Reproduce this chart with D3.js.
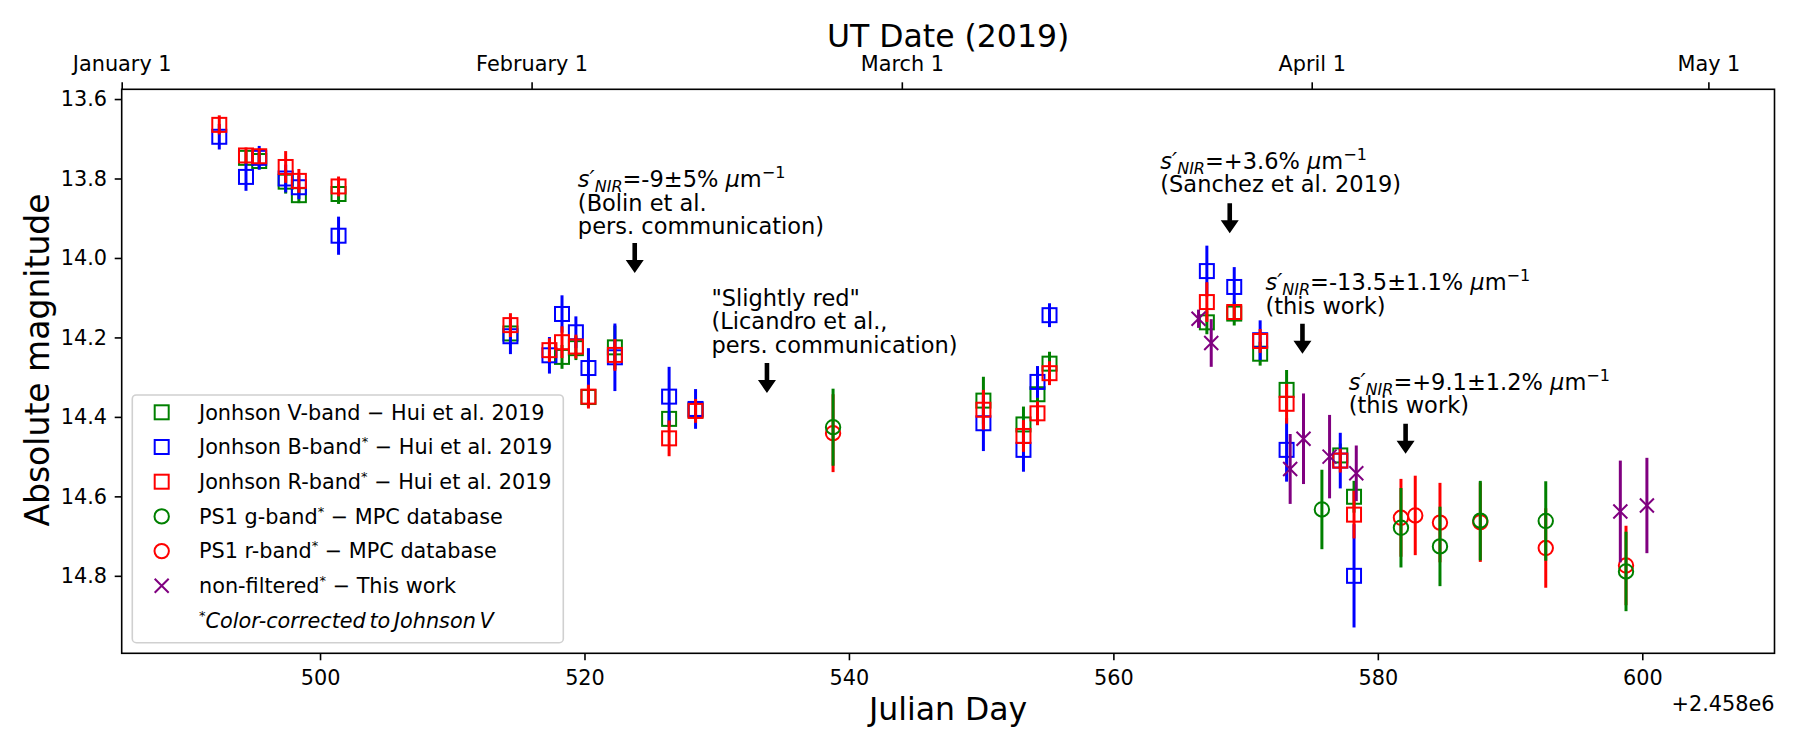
<!DOCTYPE html>
<html>
<head>
<meta charset="utf-8">
<script src="https://cdn.jsdelivr.net/npm/d3@7"></script>
<style>
  body { margin: 0; background: #fff; }
  svg { font-family: "DejaVu Sans", sans-serif; }
</style>
</head>
<body>
<div id="chart"></div>
<script>
// Hui et al. 2019 epochs (JD - 2458000) and the three Johnson bands
const huiJd = [492.38, 494.40, 495.40, 497.40, 498.40, 501.40, 514.40, 517.35, 518.30, 519.35, 520.30, 522.30,
               526.40, 528.40, 550.17, 553.20, 554.26, 555.17, 567.07, 569.14, 571.10, 573.10, 577.16, 578.20];
const vMag = [null, 13.748, 13.756, 13.808, 13.842, 13.839, 14.190, null, 14.249, 14.227, 14.350, 14.225,
              14.405, 14.383, 14.359, 14.419, 14.343, 14.266, 14.162, 14.140, 14.241, 14.332, 14.497, 14.601];
const vErr = [null, 0.015, 0.02, 0.03, 0.02, 0.025, 0.02, null, 0.03, 0.03, 0.025, 0.055,
              0.02, 0.02, 0.06, 0.045, 0.03, 0.03, 0.03, 0.03, 0.03, 0.05, 0.03, 0.04];
const bMag = [13.695, 13.796, 13.748, 13.800, 13.822, 13.944, 14.197, 14.245, 14.141, 14.187, 14.277, 14.250,
              14.349, 14.380, 14.416, 14.483, 14.312, 14.144, 14.033, 14.073, 14.207, 14.483, 14.510, 14.800];
const bErr = [0.032, 0.035, 0.03, 0.035, 0.03, 0.048, 0.045, 0.046, 0.047, 0.04, 0.05, 0.085,
              0.075, 0.05, 0.07, 0.055, 0.04, 0.03, 0.064, 0.05, 0.05, 0.08, 0.07, 0.13];
const rMag = [13.665, 13.742, 13.744, 13.771, 13.806, 13.820, 14.169, 14.232, 14.212, 14.223, 14.349, 14.244,
              14.454, 14.385, 14.382, 14.448, 14.391, 14.290, 14.111, 14.136, 14.209, 14.367, 14.510, 14.646];
const rErr = [0.024, 0.02, 0.02, 0.04, 0.03, 0.025, 0.03, 0.03, 0.04, 0.03, 0.03, 0.04,
              0.045, 0.03, 0.05, 0.04, 0.03, 0.03, 0.05, 0.02, 0.03, 0.05, 0.03, 0.06];

// PS1 from the MPC database
const ps1Jd  = [538.80, 575.77, 581.75, 582.83, 584.70, 587.75, 592.70, 598.77];
const ps1G   = [14.426, 14.633, 14.679, null, 14.726, 14.661, 14.662, 14.789];
const ps1GErr = [0.097, 0.10, 0.10, null, 0.10, 0.10, 0.10, 0.10];
const ps1R   = [14.441, null, 14.654, 14.648, 14.666, 14.665, 14.730, 14.774];
const ps1RErr = [0.098, null, 0.098, 0.10, 0.10, 0.10, 0.10, 0.10];

// non-filtered, this work
const nfJd  = [566.44, 567.40, 573.37, 574.38, 576.35, 578.37, 598.34, 600.35];
const nfMag = [14.153, 14.214, 14.531, 14.455, 14.500, 14.542, 14.638, 14.623];
const nfErr = [0.023, 0.06, 0.088, 0.114, 0.105, 0.07, 0.128, 0.12];

const xTicks = [500, 520, 540, 560, 580, 600];
const yTicks = [13.6, 13.8, 14.0, 14.2, 14.4, 14.6, 14.8];
const dateJd = [485, 516, 544, 575, 605];
const dateLabels = ["January 1", "February 1", "March 1", "April 1", "May 1"];

const legendLabels = [
  "Jonhson V-band − Hui et al. 2019",
  "Jonhson B-band* − Hui et al. 2019",
  "Jonhson R-band* − Hui et al. 2019",
  "PS1 g-band* − MPC database",
  "PS1 r-band* − MPC database",
  "non-filtered* − This work"
];
const legendNote = "Color-corrected to Johnson V";

// annotations: slope value (or null), other lines, text anchor and arrow tip in data coords
const annoSlope = ["-9±5%", null, "+3.6%", "-13.5±1.1%", "+9.1±1.2%"];
const annoLines = [
  ["(Bolin et al.", "pers. communication)"],
  ["\"Slightly red\"", "(Licandro et al.,", "pers. communication)"],
  ["(Sanchez et al. 2019)"],
  ["(this work)"],
  ["(this work)"]
];
const annoText = [[519.5, 13.822], [529.6, 14.121], [563.55, 13.776], [571.5, 14.081], [577.8, 14.332]];
const annoTip  = [[523.8, 14.038], [533.8, 14.340], [568.8, 13.938], [574.3, 14.241], [582.1, 14.493]];

const W = 1800, H = 750;
const plotL = 121.7, plotR = 1774.5, plotT = 89.3, plotB = 653.3;

const svg = d3.select("#chart").append("svg")
  .attr("width", W)
  .attr("height", H);

const x = d3.scaleLinear().domain([485, 610]).range([plotL, plotR]);
const y = d3.scaleLinear().domain([13.5755, 14.995]).range([plotT, plotB]);

function styleAxis(g) {
  g.attr("font-family", "DejaVu Sans").attr("font-size", 20.8);
  g.select(".domain").remove();
  g.selectAll(".tick line").attr("stroke", "#000").attr("stroke-width", 1.6);
  g.selectAll(".tick text").attr("fill", "#000");
}

svg.append("g")
  .attr("transform", `translate(0,${plotB})`)
  .call(d3.axisBottom(x).tickValues(xTicks).tickSize(7).tickPadding(10).tickFormat(d3.format("d")))
  .call(styleAxis);

svg.append("g")
  .attr("transform", `translate(${plotL},0)`)
  .call(d3.axisLeft(y).tickValues(yTicks).tickSize(7).tickPadding(7.7).tickFormat(d3.format(".1f")))
  .call(styleAxis);

svg.append("g")
  .attr("transform", `translate(0,${plotT})`)
  .call(d3.axisTop(x).tickValues(dateJd).tickSize(7).tickPadding(11.5).tickFormat((d, i) => dateLabels[i]))
  .call(styleAxis);

// axis titles
svg.append("text")
  .attr("x", (plotL + plotR) / 2).attr("y", 46.5)
  .attr("text-anchor", "middle").attr("font-size", 31.5)
  .text("UT Date (2019)");

svg.append("text")
  .attr("x", (plotL + plotR) / 2).attr("y", 720)
  .attr("text-anchor", "middle").attr("font-size", 31.5)
  .text("Julian Day");

svg.append("text")
  .attr("transform", "translate(49,360) rotate(-90)")
  .attr("text-anchor", "middle").attr("font-size", 33)
  .text("Absolute magnitude");

svg.append("text")
  .attr("x", plotR).attr("y", 710.7)
  .attr("text-anchor", "end").attr("font-size", 20.8)
  .text("+2.458e6");

// markers
function marker(g, shape, color) {
  if (shape === "square") {
    g.append("rect").attr("x", -7).attr("y", -7).attr("width", 14).attr("height", 14)
      .attr("fill", "none").attr("stroke", color).attr("stroke-width", 2);
  } else if (shape === "circle") {
    g.append("circle").attr("r", 7.2)
      .attr("fill", "none").attr("stroke", color).attr("stroke-width", 2);
  } else {
    g.append("path").attr("d", "M-7,-7L7,7M-7,7L7,-7")
      .attr("fill", "none").attr("stroke", color).attr("stroke-width", 2);
  }
}

function drawSeries(jd, mag, err, color, shape) {
  const rows = jd.map((d, i) => ({ jd: d, mag: mag[i], err: err[i] })).filter(d => d.mag != null);
  const g = svg.append("g");
  g.selectAll("line").data(rows).join("line")
    .attr("x1", d => x(d.jd)).attr("x2", d => x(d.jd))
    .attr("y1", d => y(d.mag - d.err)).attr("y2", d => y(d.mag + d.err))
    .attr("stroke", color).attr("stroke-width", 3);
  g.selectAll("g.m").data(rows).join("g").attr("class", "m")
    .attr("transform", d => `translate(${x(d.jd)},${y(d.mag)})`)
    .each(function () { marker(d3.select(this), shape, color); });
}

drawSeries(huiJd, vMag, vErr, "green", "square");
drawSeries(huiJd, bMag, bErr, "blue", "square");
drawSeries(huiJd, rMag, rErr, "red", "square");
drawSeries(ps1Jd, ps1R, ps1RErr, "red", "circle");
drawSeries(ps1Jd, ps1G, ps1GErr, "green", "circle");
drawSeries(nfJd, nfMag, nfErr, "purple", "x");

// annotations
const fs = 22.5, lh = 23.4;
annoText.forEach((t, i) => {
  const tx = x(t[0]);
  let by = y(t[1]);
  if (annoSlope[i]) {
    const txt = svg.append("text").attr("font-size", fs).attr("fill", "#000")
      .attr("x", tx).attr("y", by);
    txt.append("tspan").attr("font-style", "italic").text("s′");
    txt.append("tspan").attr("font-style", "italic").attr("font-size", 16).attr("dy", 5).text("NIR");
    txt.append("tspan").attr("dy", -5).text("=" + annoSlope[i] + " ");
    txt.append("tspan").attr("font-style", "italic").text("μ");
    txt.append("tspan").text("m");
    txt.append("tspan").attr("font-size", 16).attr("dy", -9).text("−1");
    by += lh;
  }
  annoLines[i].forEach((s, j) => {
    svg.append("text").attr("font-size", fs)
      .attr("x", tx).attr("y", by + j * lh).text(s);
  });
  const ax = x(annoTip[i][0]), ay = y(annoTip[i][1]);
  svg.append("path")
    .attr("d", `M${ax - 2.3},${ay - 30}L${ax + 2.3},${ay - 30}L${ax + 2.3},${ay - 13}L${ax + 9},${ay - 13}` +
               `L${ax},${ay}L${ax - 9},${ay - 13}L${ax - 2.3},${ay - 13}Z`)
    .attr("fill", "#000");
});

// frame
svg.append("rect")
  .attr("x", plotL).attr("y", plotT)
  .attr("width", plotR - plotL).attr("height", plotB - plotT)
  .attr("fill", "none").attr("stroke", "#000").attr("stroke-width", 1.6);

// legend
const legColors = ["green", "blue", "red", "green", "red", "purple"];
const legShapes = ["square", "square", "square", "circle", "circle", "x"];
const leg = svg.append("g");
leg.append("rect")
  .attr("x", 132.3).attr("y", 395).attr("width", 431).attr("height", 247.7).attr("rx", 4)
  .attr("fill", "#fff").attr("fill-opacity", 0.8)
  .attr("stroke", "#d0d0d0").attr("stroke-width", 1.6);

const rowY = i => 412.3 + i * 34.7;
legendLabels.forEach((lab, i) => {
  marker(leg.append("g").attr("transform", `translate(161.7,${rowY(i)})`), legShapes[i], legColors[i]);
  const t = leg.append("text").attr("x", 199).attr("y", rowY(i) + 7.3).attr("font-size", 20.8);
  const parts = lab.split("*");
  t.append("tspan").text(parts[0]);
  if (parts.length > 1) {
    t.append("tspan").attr("font-size", 13).attr("dy", -8).text("*");
    t.append("tspan").attr("dy", 8).text(parts[1]);
  }
});
const note = leg.append("text").attr("x", 199).attr("y", rowY(6) + 7.3)
  .attr("font-size", 20.8).attr("font-style", "italic").attr("word-spacing", -3);
note.append("tspan").attr("font-size", 13).attr("dy", -8).text("*");
note.append("tspan").attr("dy", 8).text(legendNote);
</script>
</body>
</html>
